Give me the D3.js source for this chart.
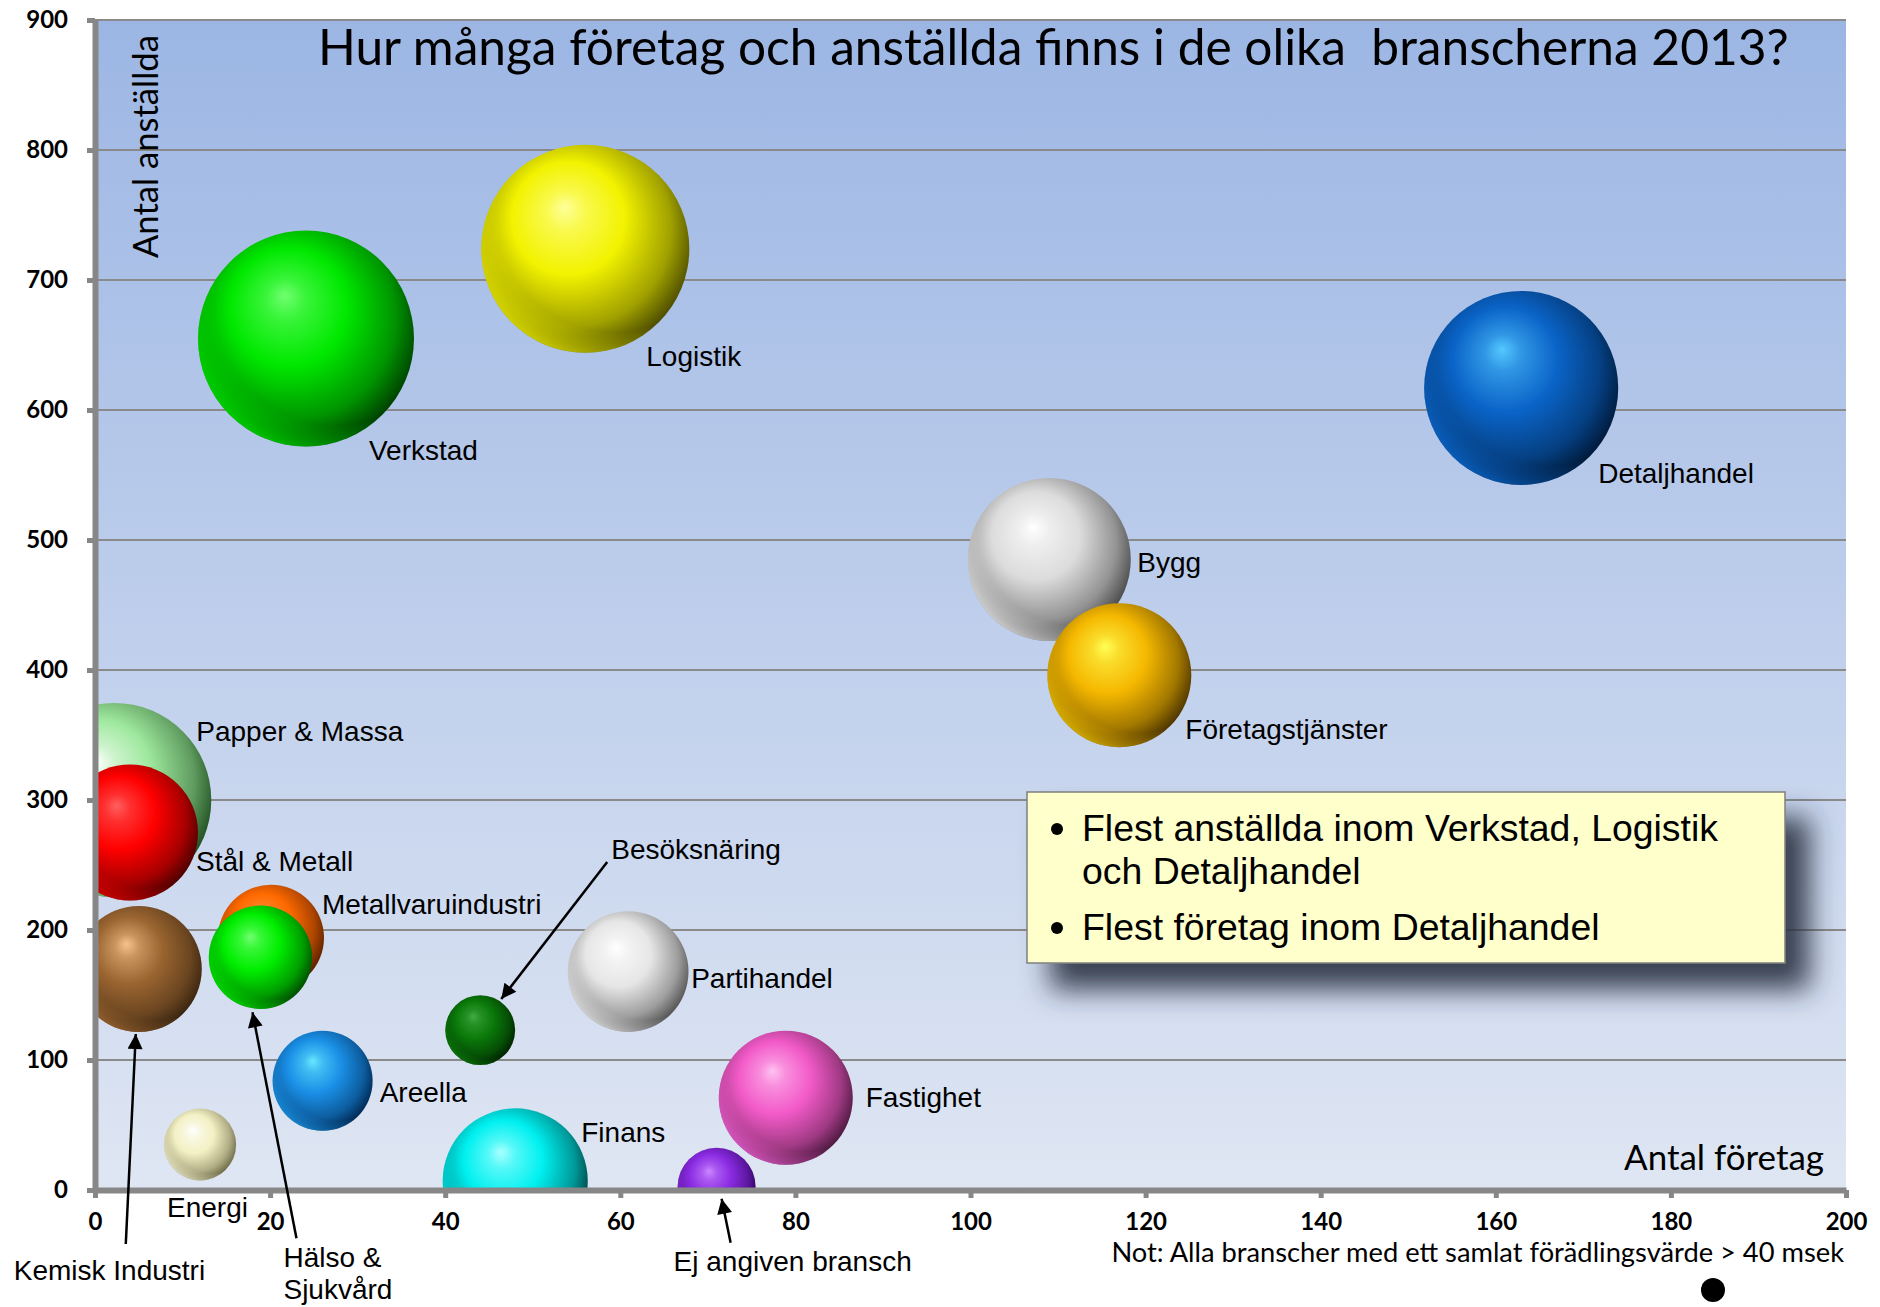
<html>
<head>
  <title>branscher 2013</title>
  <meta charset="utf-8">
</head>
<style>
  body {
    padding: 0em;
    margin: 0em;
    background: #fff;
  }
  text {
    font-family: "Liberation Sans", Arial, sans-serif;
  }
</style>
<body>
  <div id="chart"></div>
</body>
<script src="https://cdn.jsdelivr.net/npm/d3@7"></script>
<script>
  // data
  const branscher = ["Papper & Massa", "Stål & Metall", "Kemisk Industri", "Metallvaruindustri",
    "Hälso & Sjukvård", "Areella", "Energi", "Besöksnäring", "Finans", "Partihandel",
    "Ej angiven bransch", "Fastighet", "Verkstad", "Logistik", "Bygg", "Företagstjänster", "Detaljhandel"]
  const antalForetag = [2.2, 4.0, 5.0, 20.1, 18.9, 26.0, 12.0, 44.0, 48.0, 60.9, 71.0, 78.9, 24.1, 56.0, 109.0, 117.0, 162.9]
  const antalAnstallda = [300, 275, 170, 194, 179, 84, 35, 123, 7, 168, 2.5, 71, 655, 724, 485, 396, 617]
  const storlek = [941, 462, 397, 281, 267, 250, 130, 122, 526, 364, 152, 449, 1166, 1082, 664, 518, 941]
  const xTicks = [0, 20, 40, 60, 80, 100, 120, 140, 160, 180, 200]
  const yTicks = [0, 100, 200, 300, 400, 500, 600, 700, 800, 900]
  const punkter = ["Flest anställda inom Verkstad, Logistik", "och Detaljhandel", "Flest företag inom Detaljhandel"]

  // colours: [highlight, base, dark]
  const farger = [
    ["#ffffff", "#9ee89e", "#1f4d1f"], ["#ff6060", "#ff0000", "#4d0000"], ["#f7c48c", "#9a6430", "#3a2510"],
    ["#ff9a4d", "#ff6a00", "#5a2000"], ["#70ff70", "#00ee00", "#004d00"], ["#66e8ff", "#1a8fe6", "#002a55"],
    ["#ffffff", "#f3f0c4", "#6e6c48"], ["#44aa44", "#0a7a0a", "#002200"], ["#aaffff", "#00f0f0", "#004040"],
    ["#ffffff", "#e6e6e6", "#555555"], ["#cc88ff", "#8a2be2", "#2a0055"], ["#ffc2f2", "#f25ac8", "#4d1a40"],
    ["#70ff70", "#00e800", "#004000"], ["#ffff99", "#f2f200", "#4d4d00"], ["#ffffff", "#dcdcdc", "#4a4a4a"],
    ["#ffff55", "#f5b800", "#4d3500"], ["#55c8ff", "#0a64c8", "#001a3a"]
  ]
  // label offsets from bubble centre, px (lines, dx, dy) and arrows (from, to) relative to centre
  const etiketter = [
    [["Papper & Massa"], 82, -59], [["Stål & Metall"], 66, 38], [["Kemisk Industri"], -125, 311],
    [["Metallvaruindustri"], 51, -24], [["Hälso &", "Sjukvård"], 23, 310], [["Areella"], 57, 21],
    [["Energi"], -33, 72], [["Besöksnäring"], 131, -171], [["Finans"], 66, -39], [["Partihandel"], 63, 16],
    [["Ej angiven bransch"], -43, 84], [["Fastighet"], 80, 9], [["Verkstad"], 63, 121], [["Logistik"], 61, 117],
    [["Bygg"], 88, 12], [["Företagstjänster"], 66, 64], [["Detaljhandel"], 77, 95]
  ]
  const pilar = { 2: [-13, 275, -3, 65], 4: [36, 281, -8, 55], 7: [127, -168, 21, -31], 10: [14, 56, 5, 12] }

  const width = 1880
  const height = 1307
  const svg = d3.select("#chart").append("svg")
    .attr("width", width)
    .attr("height", height)

  const x = d3.scaleLinear().domain([0, 200]).range([95, 1846])
  const y = d3.scaleLinear().domain([0, 900]).range([1190, 20])
  const r = d3.scaleSqrt().domain([0, d3.max(storlek)]).range([0, 108])

  const defs = svg.append("defs")
  const bg = defs.append("linearGradient").attr("id", "bg").attr("x1", 0).attr("y1", 0).attr("x2", 0).attr("y2", 1)
  bg.append("stop").attr("offset", 0).attr("stop-color", "#9cb6e4")
  bg.append("stop").attr("offset", 1).attr("stop-color", "#dfe6f3")

  defs.append("clipPath").attr("id", "plot").append("rect")
    .attr("x", x(0)).attr("y", y(900)).attr("width", x(200) - x(0)).attr("height", y(0) - y(900))

  const sh = defs.append("filter").attr("id", "skugga")
    .attr("x", -0.2).attr("y", -0.3).attr("width", 1.5).attr("height", 1.9)
  sh.append("feDropShadow").attr("dx", 24).attr("dy", 26).attr("stdDeviation", 14)
    .attr("flood-color", "#2b3040").attr("flood-opacity", 0.9)

  const arrow = defs.append("marker").attr("id", "pil")
    .attr("viewBox", "0 0 10 10").attr("refX", 10).attr("refY", 5)
    .attr("markerWidth", 7).attr("markerHeight", 6).attr("markerUnits", "strokeWidth")
    .attr("orient", "auto")
  arrow.append("path").attr("d", "M0,0L10,5L0,10z").attr("fill", "#000")

  farger.forEach((f, i) => {
    const g = defs.append("radialGradient").attr("id", "sf" + i)
      .attr("cx", 0.44).attr("cy", 0.42).attr("r", 0.6).attr("fx", 0.4).attr("fy", 0.3)
    g.append("stop").attr("offset", 0).attr("stop-color", f[0])
    g.append("stop").attr("offset", 0.16).attr("stop-color", d3.interpolateRgb(f[0], f[1])(0.5))
    g.append("stop").attr("offset", 0.45).attr("stop-color", f[1])
    g.append("stop").attr("offset", 0.8).attr("stop-color", d3.interpolateRgb(f[1], f[2])(0.5))
    g.append("stop").attr("offset", 1).attr("stop-color", f[2])
    const rim = defs.append("radialGradient").attr("id", "rim" + i)
      .attr("cx", 0.64).attr("cy", 0.34).attr("r", 0.78)
    rim.append("stop").attr("offset", 0.72).attr("stop-color", f[1]).attr("stop-opacity", 0)
    rim.append("stop").attr("offset", 0.97).attr("stop-color", d3.color(f[1]).brighter(0.5)).attr("stop-opacity", 0.85)
  })

  // plot background and grid
  svg.append("rect")
    .attr("x", x(0)).attr("y", y(900)).attr("width", x(200) - x(0)).attr("height", y(0) - y(900))
    .attr("fill", "url(#bg)")

  svg.append("g").selectAll("line").data(yTicks.filter(d => d > 0)).join("line")
    .attr("x1", x(0)).attr("x2", x(200))
    .attr("y1", d => y(d)).attr("y2", d => y(d))
    .attr("stroke", "#8a8a8a").attr("stroke-width", 2)

  // bubbles
  const data = branscher.map((b, i) => ({ namn: b, x: antalForetag[i], y: antalAnstallda[i], s: storlek[i], i: i }))
  const bubbles = svg.append("g").attr("clip-path", "url(#plot)")
    .selectAll("g").data(data).join("g")
    .attr("transform", d => `translate(${x(d.x)},${y(d.y)})`)
  bubbles.append("circle").attr("r", d => r(d.s)).attr("fill", d => `url(#sf${d.i})`)
  bubbles.append("circle").attr("r", d => r(d.s)).attr("fill", d => `url(#rim${d.i})`)

  // axes
  const xAxis = svg.append("g").attr("transform", `translate(0,${y(0)})`)
    .call(d3.axisBottom(x).tickValues(xTicks).tickSize(8).tickSizeOuter(0).tickPadding(15))
  const yAxis = svg.append("g").attr("transform", `translate(${x(0)},0)`)
    .call(d3.axisLeft(y).tickValues(yTicks).tickSize(8).tickSizeOuter(0).tickPadding(19))
  for (const a of [xAxis, yAxis]) {
    a.select(".domain").attr("stroke", "#878787").attr("stroke-width", 6)
    a.selectAll(".tick line").attr("stroke", "#878787").attr("stroke-width", 5)
    a.selectAll(".tick text").attr("fill", "#000")
      .style("font-family", "Lato, sans-serif").style("font-weight", "bold").style("font-size", "24px")
  }

  // labels
  const lab = svg.append("g")
  data.forEach(d => {
    const e = etiketter[d.i]
    const t = lab.append("text")
      .attr("x", x(d.x) + e[1]).attr("y", y(d.y) + e[2])
      .attr("font-size", 28).attr("fill", "#000")
    e[0].forEach((s, k) => t.append("tspan").attr("x", x(d.x) + e[1]).attr("dy", k ? 32 : 0).text(s))
    const p = pilar[d.i]
    if (p) {
      lab.append("line")
        .attr("x1", x(d.x) + p[0]).attr("y1", y(d.y) + p[1])
        .attr("x2", x(d.x) + p[2]).attr("y2", y(d.y) + p[3])
        .attr("stroke", "#000").attr("stroke-width", 2.5).attr("marker-end", "url(#pil)")
    }
  })

  // fit Calibri-like texts to their width
  function fit(t, w) {
    const fs = +t.attr("font-size")
    t.attr("font-size", fs * w / t.node().getComputedTextLength())
    return t
  }

  fit(svg.append("text").attr("x", 318).attr("y", 65)
    .style("font-family", "Lato, sans-serif").style("white-space", "pre")
    .attr("font-size", 44).attr("fill", "#000")
    .text("Hur många företag och anställda finns i de olika  branscherna 2013?"), 1471)

  fit(svg.append("text").attr("transform", "translate(158,258) rotate(-90)")
    .style("font-family", "Lato, sans-serif").attr("font-size", 34).attr("fill", "#000")
    .text("Antal anställda"), 223)

  fit(svg.append("text").attr("x", 1824).attr("y", 1170).attr("text-anchor", "end")
    .style("font-family", "Lato, sans-serif").attr("font-size", 30).attr("fill", "#000")
    .text("Antal företag"), 200)

  fit(svg.append("text").attr("x", 1844).attr("y", 1262).attr("text-anchor", "end")
    .style("font-family", "Lato, sans-serif").attr("font-size", 25).attr("fill", "#000")
    .text("Not: Alla branscher med ett samlat förädlingsvärde > 40 msek"), 733)

  svg.append("circle").attr("cx", 1713).attr("cy", 1290).attr("r", 12).attr("fill", "#000")

  // text box
  const box = svg.append("g")
  box.append("rect").attr("x", 1027).attr("y", 792).attr("width", 758).attr("height", 171)
    .attr("fill", "#ffffcc").attr("stroke", "#7f7f7f").attr("stroke-width", 1.5)
    .attr("filter", "url(#skugga)")
  const rader = [[punkter[0], 841, true], [punkter[1], 884, false], [punkter[2], 940, true]]
  rader.forEach(rd => {
    box.append("text").attr("x", 1082).attr("y", rd[1]).attr("font-size", 37.4).attr("fill", "#000").text(rd[0])
    if (rd[2]) box.append("circle").attr("cx", 1057).attr("cy", rd[1] - 12).attr("r", 6).attr("fill", "#000")
  })
</script>
</html>
